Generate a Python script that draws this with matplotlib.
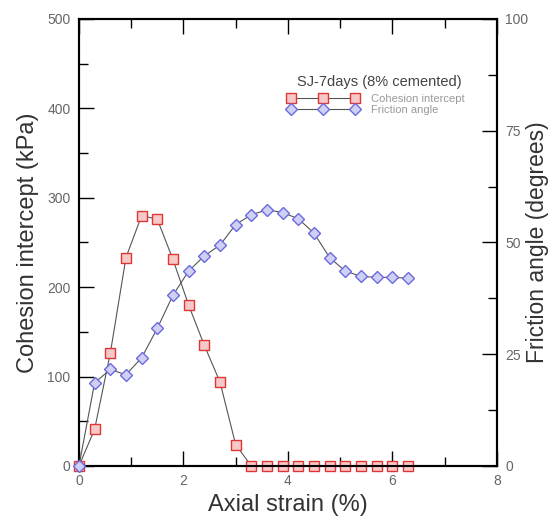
import matplotlib.pyplot as plt
from matplotlib.ticker import MultipleLocator

plt.rcParams['font.family'] = ['Liberation Sans', 'DejaVu Sans']

# axial strain (%) for each test point
strain = [0.0, 0.3, 0.6, 0.9, 1.2, 1.5, 1.8, 2.1, 2.4, 2.7, 3.0, 3.3, 3.6,
          3.9, 4.2, 4.5, 4.8, 5.1, 5.4, 5.7, 6.0, 6.3]
# cohesion intercept (kPa)
cohesion = [0, 41, 126, 233, 280, 276, 231, 180, 135, 94, 24, 0, 0,
            0, 0, 0, 0, 0, 0, 0, 0, 0]
# friction angle (degrees)
friction = [0, 18.6, 21.6, 20.4, 24.2, 30.8, 38.2, 43.6, 47.0, 49.4, 54.0, 56.2, 57.3,
            56.7, 55.3, 52.1, 46.6, 43.6, 42.4, 42.2, 42.2, 42.0]

fig = plt.figure(figsize=(5.52, 5.21), dpi=100)
ax = fig.add_axes([0.143, 0.1056, 0.757, 0.858])
ax2 = ax.twinx()

l1, = ax.plot(strain, cohesion, color='#555555', lw=0.8, marker='s', ms=7,
              mfc='#f7c8c8', mec='#e03535', mew=1.0, label='Cohesion intercept',
              clip_on=False, zorder=3)
l2, = ax2.plot(strain, friction, color='#555555', lw=0.8, marker='D', ms=6.5,
               mfc='#d0d0f5', mec='#6a6ae0', mew=1.0, label='Friction angle',
               clip_on=False, zorder=3)

ax.set_xlim(0, 8)
ax.set_ylim(0, 500)
ax2.set_ylim(0, 100)

ax.xaxis.set_major_locator(MultipleLocator(2))
ax.xaxis.set_minor_locator(MultipleLocator(1))
ax.yaxis.set_major_locator(MultipleLocator(100))
ax.yaxis.set_minor_locator(MultipleLocator(50))
ax2.yaxis.set_major_locator(MultipleLocator(25))
ax2.yaxis.set_minor_locator(MultipleLocator(12.5))

ax.tick_params(which='both', direction='in', top=True, right=False,
               labelsize=10, labelcolor='#666666', width=1, pad=6)
ax.tick_params(which='major', length=11)
ax.tick_params(which='minor', length=6.5)
ax2.tick_params(which='both', direction='in', labelsize=10,
                labelcolor='#666666', width=1, pad=6)
ax2.tick_params(which='major', length=11)
ax2.tick_params(which='minor', length=6.5)

for a in (ax, ax2):
    for s in a.spines.values():
        s.set_linewidth(1.5)

ax.set_xlabel('Axial strain (%)', fontsize=17, color='#333333', labelpad=4)
ax.set_ylabel('Cohesion intercept (kPa)', fontsize=17, color='#333333', labelpad=6)
ax2.set_ylabel('Friction angle (degrees)', fontsize=16.5, color='#333333')
ax2.yaxis.set_label_coords(1.071, 0.5)

ax.text(0.72, 0.859, 'SJ-7days (8% cemented)', transform=ax.transAxes,
        ha='center', va='center', fontsize=10.5, color='#444444')
leg = ax.legend(handles=[l1, l2], numpoints=3,
                loc='upper left', bbox_to_anchor=(0.5, 0.833), frameon=False,
                fontsize=8, handlelength=6.3,
                handletextpad=1.2, labelspacing=0.1, borderaxespad=0,
                borderpad=0)
for t in leg.get_texts():
    t.set_color('#999999')

fig.savefig('out.png', dpi=100)
